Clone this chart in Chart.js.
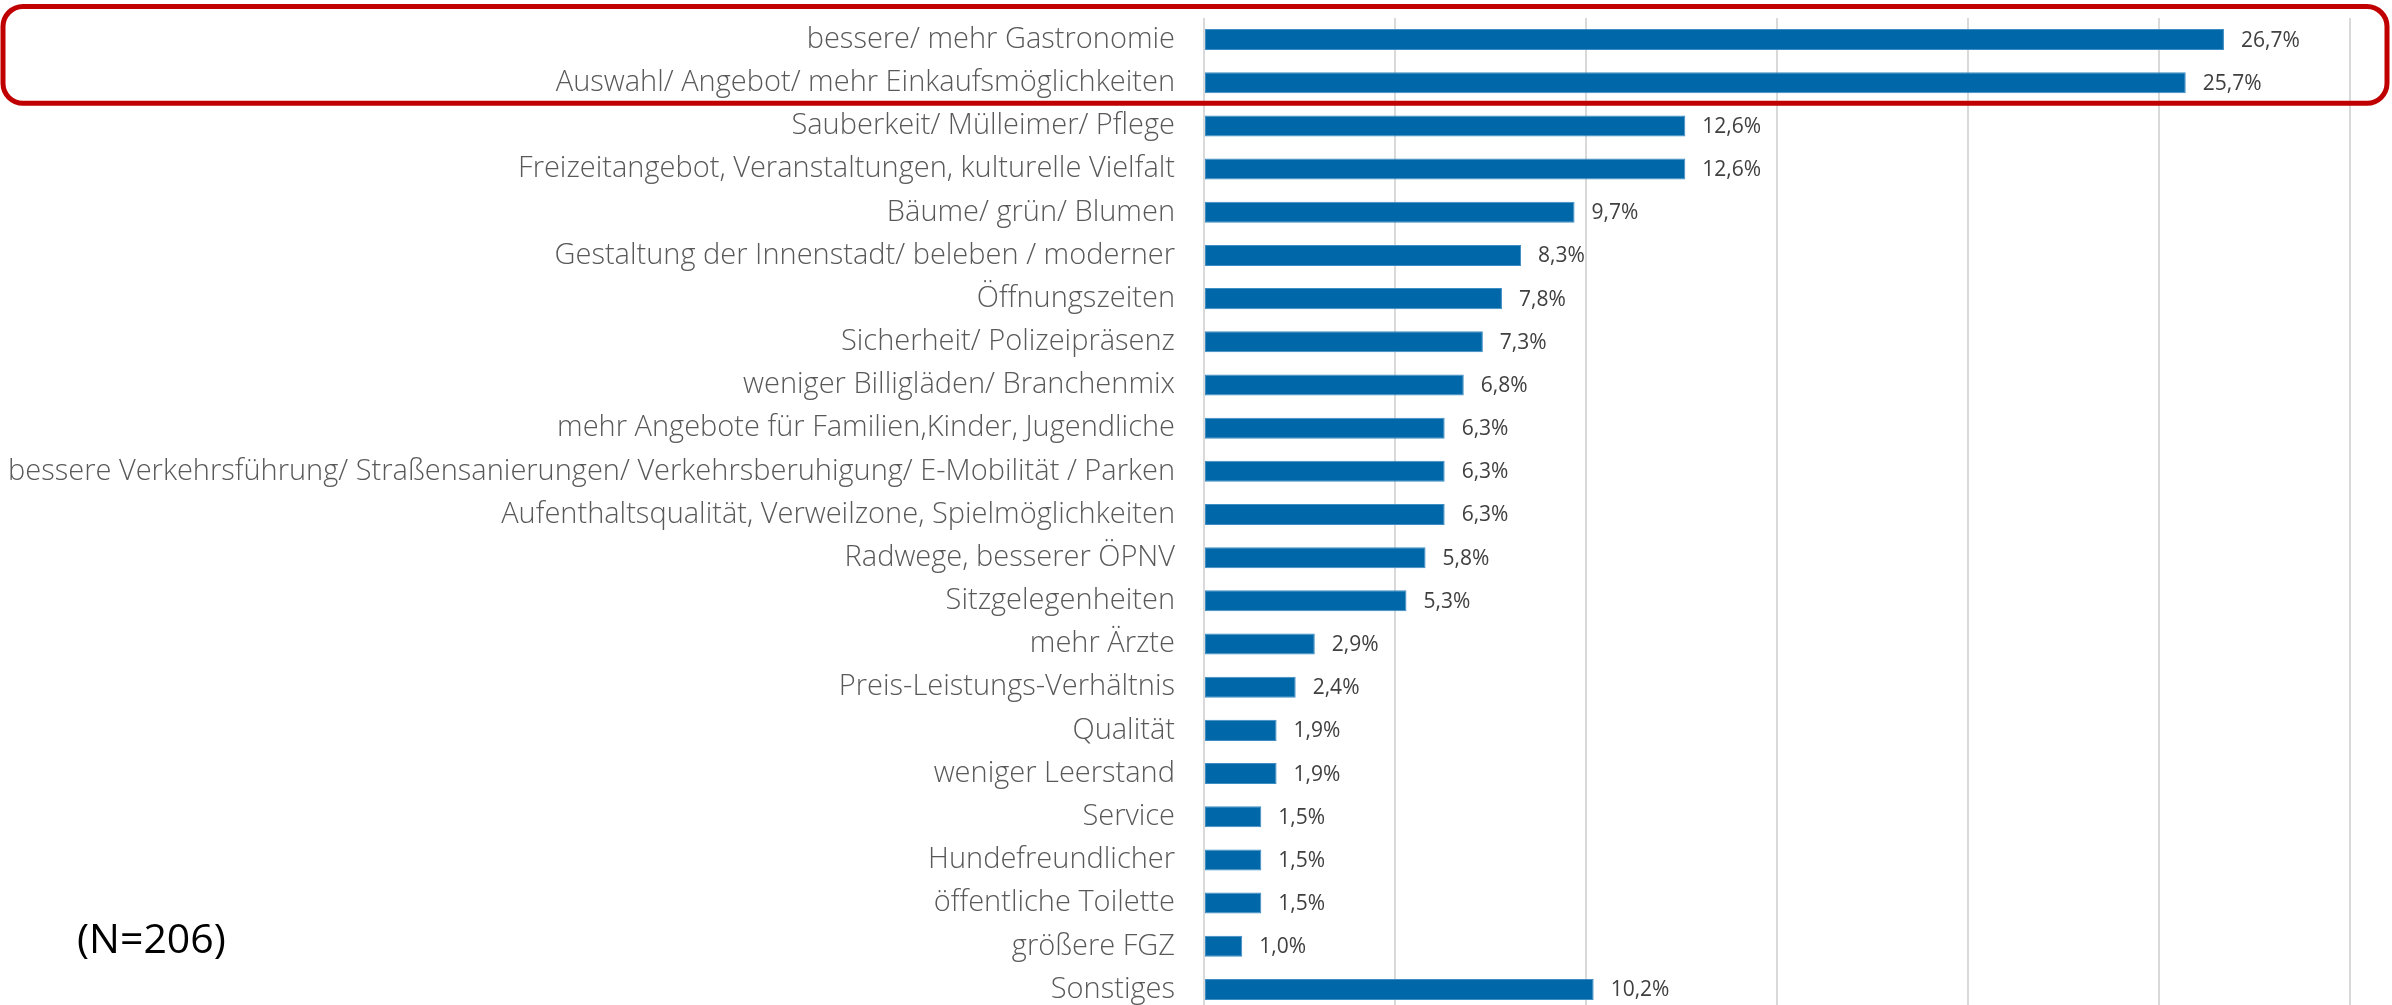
<!DOCTYPE html>
<html>
<head>
<meta charset="utf-8">
<script src="https://cdn.jsdelivr.net/npm/chart.js@4/dist/chart.umd.min.js"></script>
<style>
  html, body { margin: 0; padding: 0; background: #ffffff; overflow: hidden; }
  #wrap { position: absolute; left: 0; top: 0; width: 2392px; height: 1011px; }
</style>
</head>
<body>
<div id="wrap"><canvas id="c"></canvas></div>
<script>
const categories = [
  'bessere/ mehr Gastronomie',
  'Auswahl/ Angebot/ mehr Einkaufsmöglichkeiten',
  'Sauberkeit/ Mülleimer/ Pflege',
  'Freizeitangebot, Veranstaltungen, kulturelle Vielfalt',
  'Bäume/ grün/ Blumen',
  'Gestaltung der Innenstadt/ beleben / moderner',
  'Öffnungszeiten',
  'Sicherheit/ Polizeipräsenz',
  'weniger Billigläden/ Branchenmix',
  'mehr Angebote für Familien,Kinder, Jugendliche',
  'bessere Verkehrsführung/ Straßensanierungen/ Verkehrsberuhigung/ E-Mobilität / Parken',
  'Aufenthaltsqualität, Verweilzone, Spielmöglichkeiten',
  'Radwege, besserer ÖPNV',
  'Sitzgelegenheiten',
  'mehr Ärzte',
  'Preis-Leistungs-Verhältnis',
  'Qualität',
  'weniger Leerstand',
  'Service',
  'Hundefreundlicher',
  'öffentliche Toilette',
  'größere FGZ',
  'Sonstiges'
];
const values = [26.7, 25.7, 12.6, 12.6, 9.7, 8.3, 7.8, 7.3, 6.8, 6.3, 6.3, 6.3, 5.8, 5.3, 2.9, 2.4, 1.9, 1.9, 1.5, 1.5, 1.5, 1.0, 10.2];
const axisMin = 0;
const axisMax = 30;
const axisStep = 5;
const highlightedCount = 2;
const sampleNote = '(N=206)';

const fmt = v => v.toFixed(1).replace('.', ',') + '%';

const valueLabels = {
  id: 'valueLabels',
  afterDatasetsDraw(chart) {
    const ctx = chart.ctx;
    const meta = chart.getDatasetMeta(0);
    ctx.save();
    ctx.font = '400 21px "Open Sans"';
    ctx.fillStyle = '#404040';
    ctx.textAlign = 'left';
    ctx.textBaseline = 'middle';
    meta.data.forEach((bar, i) => {
      ctx.fillText(fmt(values[i]), bar.x + 17, bar.y + 1);
    });
    ctx.restore();
  }
};

const extras = {
  id: 'extras',
  afterDraw(chart) {
    const ctx = chart.ctx;
    const area = chart.chartArea;
    const step = (area.bottom - area.top) / categories.length;
    const top = area.top - 11.5;
    const bottom = area.top + step * highlightedCount - 1;
    const left = 3, right = chart.width - 5, r = 20;
    ctx.save();
    ctx.strokeStyle = '#c00000';
    ctx.lineWidth = 5;
    ctx.beginPath();
    ctx.roundRect(left, top, right - left, bottom - top, r);
    ctx.stroke();
    ctx.font = '400 41px "Open Sans"';
    ctx.fillStyle = '#000000';
    ctx.textAlign = 'left';
    ctx.textBaseline = 'middle';
    ctx.fillText(sampleNote, 77, 941);
    ctx.restore();
  }
};

new Chart(document.getElementById('c'), {
  type: 'bar',
  data: {
    labels: categories,
    datasets: [{
      data: values,
      backgroundColor: '#0068a8',
      borderColor: '#3d8cc4',
      borderWidth: 1,
      borderSkipped: false,
      categoryPercentage: 1,
      barPercentage: 0.487
    }]
  },
  options: {
    indexAxis: 'y',
    responsive: true,
    maintainAspectRatio: false,
    animation: false,
    layout: { padding: { top: 18, right: 42, bottom: 0, left: 0 } },
    plugins: { legend: { display: false }, tooltip: { enabled: false } },
    scales: {
      x: {
        min: axisMin, max: axisMax,
        ticks: { display: false, stepSize: axisStep },
        grid: { color: '#d9d9d9', lineWidth: 2, drawTicks: false },
        border: { display: false },
        afterFit(scale) { scale.height = 0; scale.paddingLeft = 0; scale.paddingRight = 0; }
      },
      y: {
        ticks: {
          color: '#595959',
          font: { family: '"Open Sans"', size: 29, weight: '300' },
          padding: 29,
          autoSkip: false
        },
        grid: { display: false, drawTicks: false },
        border: { display: false },
        afterFit(scale) { scale.width = 1204; scale.paddingTop = 0; scale.paddingBottom = 0; }
      }
    }
  },
  plugins: [valueLabels, extras]
});
</script>
</body>
</html>
